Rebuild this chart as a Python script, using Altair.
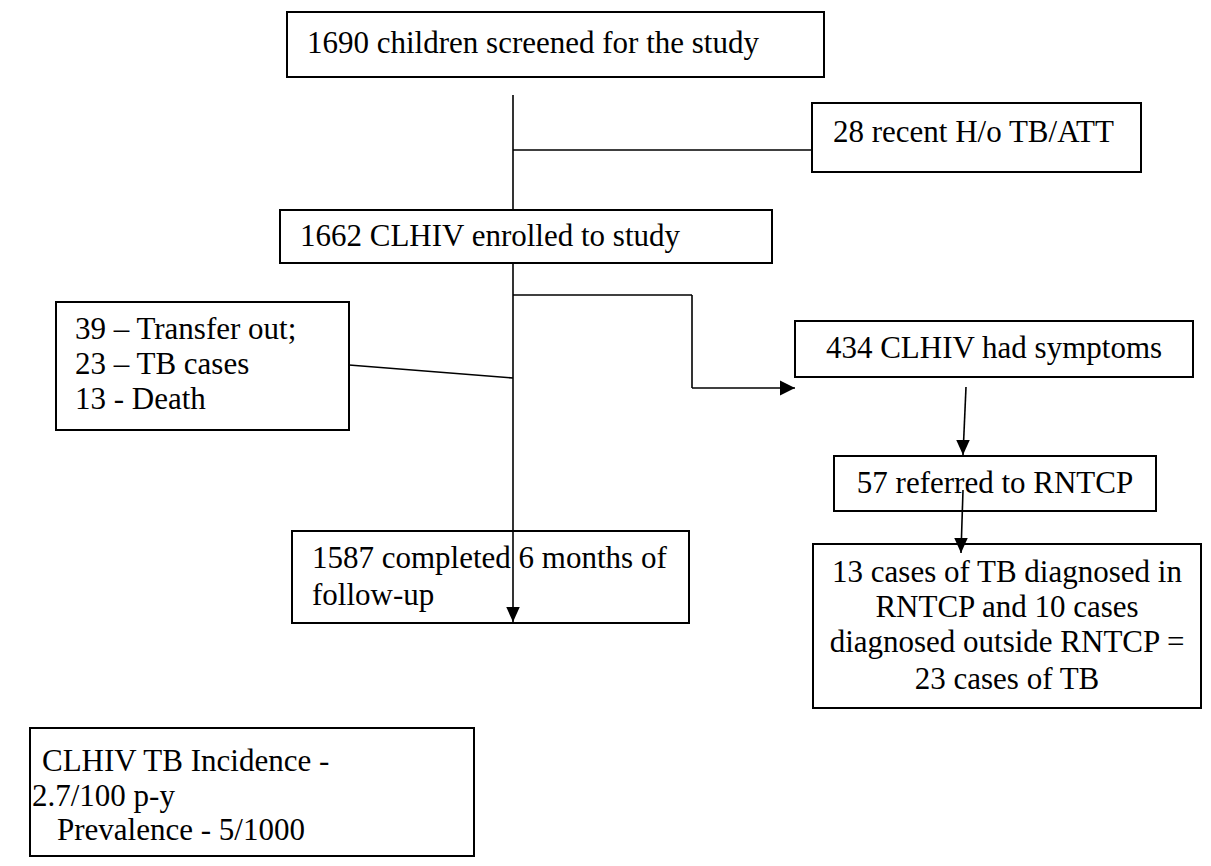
import altair as alt
import pandas as pd

# ---------------- content (text of the flow chart) ----------------
screened_label = ["1690 children screened for the study"]
excluded_label = ["28 recent H/o TB/ATT"]
enrolled_label = ["1662 CLHIV enrolled to study"]
lost_labels = ["39 \u2013 Transfer out;", "23 \u2013 TB cases", "13 - Death"]
symptoms_label = ["434 CLHIV had symptoms"]
referred_label = ["57 referred to RNTCP"]
diagnosed_labels = ["13 cases of TB diagnosed in", "RNTCP and 10 cases",
                    "diagnosed outside RNTCP =", "23 cases of TB"]
completed_labels = ["1587 completed 6 months of", "follow-up"]
summary_labels = ["CLHIV TB Incidence -", "2.7/100 p-y", "Prevalence - 5/1000"]

# ---------------- layout (pixel positions on the page) ----------------
box_x0 = [287, 812, 280, 56, 795, 834, 813, 292, 30]
box_y0 = [12, 103, 210, 302, 321, 456, 544, 531, 728]
box_x1 = [824, 1141, 772, 349, 1193, 1156, 1201, 689, 474]
box_y1 = [77, 172, 263, 430, 377, 511, 708, 623, 856]

seg_x0 = [513, 513, 513, 349, 513, 692, 692, 966, 963]
seg_y0 = [95, 150, 263, 365, 295, 295, 388, 387, 490]
seg_x1 = [513, 812, 513, 513, 692, 692, 795, 963, 961]
seg_y1 = [210, 150, 622, 378, 295, 388, 388, 455, 553]

down_tip_x = [513, 963, 961]
down_tip_y = [622, 455, 553]
right_tip_x = [795]
right_tip_y = [388]

left_text = (screened_label + excluded_label + enrolled_label + lost_labels
             + completed_labels + summary_labels)
left_x = [307, 833, 300, 75, 75, 75, 312, 312, 42, 32, 57]
left_y = [44, 133, 237, 330, 365, 400, 559, 596, 762, 797, 831]

center_text = symptoms_label + referred_label + diagnosed_labels
center_x = [994, 995, 1007, 1007, 1007, 1007]
center_y = [349, 484, 573, 608, 643, 680]

boxes = pd.DataFrame({"x": box_x0, "y": box_y0, "x2": box_x1, "y2": box_y1})
segs = pd.DataFrame({"x": seg_x0, "y": seg_y0, "x2": seg_x1, "y2": seg_y1})
downs = pd.DataFrame({"x": down_tip_x, "y": down_tip_y})
rights = pd.DataFrame({"x": right_tip_x, "y": right_tip_y})
ltext = pd.DataFrame({"x": left_x, "y": left_y, "label": left_text})
ctext = pd.DataFrame({"x": center_x, "y": center_y, "label": center_text})

W, H = 1195, 850
xs = alt.Scale(domain=[8, 8 + W], nice=False, zero=False)
ys = alt.Scale(domain=[8, 8 + H], nice=False, zero=False, reverse=True)

X = alt.X("x:Q", scale=xs, axis=None)
Y = alt.Y("y:Q", scale=ys, axis=None)

rects = alt.Chart(boxes).mark_rect(
    fill="white", stroke="black", strokeWidth=2
).encode(x=X, y=Y, x2="x2:Q", y2="y2:Q")

rules = alt.Chart(segs).mark_rule(
    color="black", strokeWidth=1.6
).encode(x=X, y=Y, x2="x2:Q", y2="y2:Q")

down_arrows = alt.Chart(downs).mark_point(
    shape="M-0.45,-1L0.45,-1L0,0Z", filled=True, color="black", opacity=1, size=900
).encode(x=X, y=Y)

right_arrows = alt.Chart(rights).mark_point(
    shape="M-1,-0.5L-1,0.5L0,0Z", filled=True, color="black", opacity=1, size=900
).encode(x=X, y=Y)

font = "Liberation Serif"
ltexts = alt.Chart(ltext).mark_text(
    align="left", baseline="middle", font=font, fontSize=31, color="black"
).encode(x=X, y=Y, text="label:N")

ctexts = alt.Chart(ctext).mark_text(
    align="center", baseline="middle", font=font, fontSize=31, color="black"
).encode(x=X, y=Y, text="label:N")

chart = alt.layer(
    rects, rules, down_arrows, right_arrows, ltexts, ctexts
).properties(
    width=W, height=H, padding=0, autosize="none", background="white"
).configure_view(stroke=None)

chart.save("out.html", embed_options={"renderer": "svg", "actions": False})
